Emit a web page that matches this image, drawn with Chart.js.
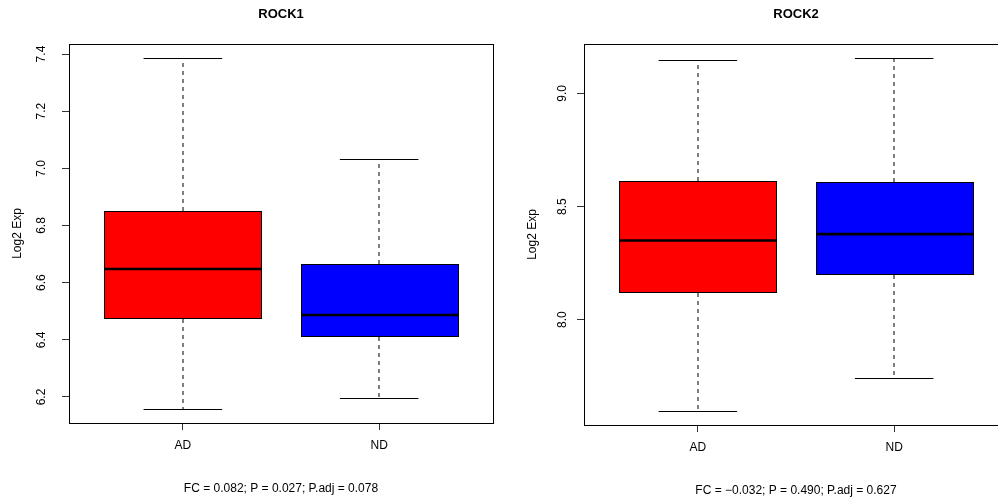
<!DOCTYPE html>
<html>
<head>
<meta charset="utf-8">
<script src="https://cdn.jsdelivr.net/npm/chart.js@4.4.1/dist/chart.umd.min.js"></script>
<style>
  html, body { margin: 0; padding: 0; background: #fff; overflow: hidden; width: 998px; height: 502px; }
  #wrap { position: relative; width: 998px; height: 502px; overflow: hidden; }
  .panel { position: absolute; top: 0; height: 502px; }
</style>
</head>
<body>
<div id="wrap">
  <div class="panel" style="left:0;width:499px"><canvas id="rock1" width="499" height="502"></canvas></div>
  <div class="panel" style="left:505px;width:520px"><canvas id="rock2" width="520" height="502"></canvas></div>
</div>
<script>
// Groups and fill colours
const categories = ['AD', 'ND'];
const boxColors = ['#FF0000', '#0000FF'];

// ROCK1 five-number summaries (log2 expression)
const rock1Min    = [6.158, 6.196];
const rock1Q1     = [6.476, 6.413];
const rock1Median = [6.648, 6.487];
const rock1Q3     = [6.851, 6.665];
const rock1Max    = [7.386, 7.033];
const rock1Ticks  = [6.2, 6.4, 6.6, 6.8, 7.0, 7.2, 7.4];
const rock1Note   = 'FC = 0.082; P = 0.027; P.adj = 0.078';

// ROCK2 five-number summaries (log2 expression)
const rock2Min    = [7.597, 7.743];
const rock2Q1     = [8.124, 8.204];
const rock2Median = [8.350, 8.378];
const rock2Q3     = [8.611, 8.607];
const rock2Max    = [9.146, 9.156];
const rock2Ticks  = [8.0, 8.5, 9.0];
const rock2Note   = 'FC = \u22120.032; P = 0.490; P.adj = 0.627';

Chart.defaults.font.family = '"Liberation Sans", Arial, Helvetica, sans-serif';
Chart.defaults.color = '#000';

const BOX_HALF = 0.4;   // half box width in group units
const CAP_HALF = 0.2;   // half staple width in group units

// Pixel-snapped box edges for group i
function boxEdges(x, y, stats, i) {
  const c = i + 1;
  return {
    l: Math.round(x.getPixelForValue(c - BOX_HALF)),
    r: Math.round(x.getPixelForValue(c + BOX_HALF)),
    t: Math.round(y.getPixelForValue(stats.q3[i])),
    b: Math.round(y.getPixelForValue(stats.q1[i]))
  };
}

// Box outlines, whiskers, staples, medians and the frame around the plot region
function boxPlotPlugin(stats) {
  return {
    id: 'boxPlotExtras',
    beforeDatasetsDraw(chart) {
      // snap the filled boxes to whole pixels so the outline sits on their edge
      const { scales: { x, y } } = chart;
      chart.getDatasetMeta(0).data.forEach((el, i) => {
        const e = boxEdges(x, y, stats, i);
        el.x = (e.l + e.r + 1) / 2;
        el.width = e.r - e.l + 1;
        el.y = e.t;
        el.base = e.b + 1;
      });
    },
    afterDatasetsDraw(chart) {
      const { ctx, chartArea: a, scales: { x, y } } = chart;
      ctx.save();
      ctx.strokeStyle = '#000';
      stats.min.forEach((_, i) => {
        const c = i + 1;
        const e = boxEdges(x, y, stats, i);
        const cx = Math.round(x.getPixelForValue(c));
        const yMin = Math.round(y.getPixelForValue(stats.min[i]));
        const yMax = Math.round(y.getPixelForValue(stats.max[i]));
        const yMed = y.getPixelForValue(stats.median[i]);

        // dashed whiskers
        ctx.lineWidth = 1;
        ctx.setLineDash([4, 4]);
        ctx.beginPath();
        ctx.moveTo(cx, e.t); ctx.lineTo(cx, yMax);
        ctx.moveTo(cx, e.b + 1); ctx.lineTo(cx, yMin);
        ctx.stroke();
        ctx.setLineDash([]);

        // staples
        const sl = x.getPixelForValue(c - CAP_HALF);
        const sr = x.getPixelForValue(c + CAP_HALF);
        ctx.beginPath();
        ctx.moveTo(sl, yMax + 0.5); ctx.lineTo(sr, yMax + 0.5);
        ctx.moveTo(sl, yMin + 0.5); ctx.lineTo(sr, yMin + 0.5);
        ctx.stroke();

        // box outline
        ctx.strokeRect(e.l + 0.5, e.t + 0.5, e.r - e.l, e.b - e.t);

        // median
        ctx.lineWidth = 2.6;
        ctx.beginPath();
        ctx.moveTo(e.l, yMed);
        ctx.lineTo(e.r + 1, yMed);
        ctx.stroke();
      });
      // plot frame
      ctx.lineWidth = 1;
      ctx.strokeRect(Math.round(a.left) + 0.5, Math.round(a.top) + 0.5,
                     Math.round(a.right - a.left), Math.round(a.bottom - a.top));
      ctx.restore();
    }
  };
}

function makeBoxChart(id, cfg) {
  const s = cfg.stats;
  const lo = Math.min(...s.min), hi = Math.max(...s.max);
  const yPad = 0.04 * (hi - lo);
  const n = categories.length;
  const xPad = 0.04 * n;

  return new Chart(document.getElementById(id), {
    type: 'bar',
    data: {
      datasets: [{
        data: categories.map((c, i) => ({ x: i + 1, y: [s.q1[i], s.q3[i]] })),
        backgroundColor: boxColors,
        borderWidth: 0,
        inflateAmount: 0,
        categoryPercentage: 2 * BOX_HALF,
        barPercentage: 1
      }]
    },
    options: {
      responsive: false,
      animation: false,
      devicePixelRatio: 1,
      layout: { padding: { left: 0, right: cfg.padRight, top: 0, bottom: 0 } },
      plugins: {
        legend: { display: false },
        tooltip: { enabled: false },
        title: {
          display: true, text: cfg.title, fullSize: false,
          font: { size: 13, weight: 'bold' }, color: '#000',
          padding: { top: 7, bottom: 21.4 }
        },
        subtitle: {
          display: true, text: cfg.note, position: 'bottom', fullSize: false,
          font: { size: 12 }, color: '#000',
          padding: { top: 0, bottom: cfg.noteBottom }
        }
      },
      scales: {
        x: {
          type: 'linear',
          min: 0.5 - xPad, max: n + 0.5 + xPad,
          offset: false,
          afterBuildTicks: sc => { sc.ticks = categories.map((c, i) => ({ value: i + 1 })); },
          afterFit: sc => { sc.height = cfg.xAxisHeight; },
          ticks: {
            autoSkip: false, maxRotation: 0, minRotation: 0,
            padding: 8, font: { size: 12 }, color: '#000',
            callback: v => categories[Math.round(v) - 1]
          },
          grid: { drawOnChartArea: false, drawTicks: true, tickLength: 7, color: '#333', offset: false },
          border: { display: false }
        },
        y: {
          type: 'linear',
          min: lo - yPad, max: hi + yPad,
          afterBuildTicks: sc => { sc.ticks = cfg.ticks.map(v => ({ value: v })); },
          afterFit: sc => { sc.width = cfg.yAxisWidth; },
          ticks: {
            minRotation: 90, maxRotation: 90, crossAlign: 'center',
            padding: cfg.yTickPad, font: { size: 12 }, color: '#000',
            callback: v => Number(v).toFixed(1)
          },
          grid: { drawOnChartArea: false, drawTicks: true, tickLength: 7, color: '#333' },
          border: { display: false },
          title: {
            display: true, text: 'Log2 Exp', font: { size: 12 }, color: '#000',
            padding: { top: cfg.yTitlePad, bottom: 0 }
          }
        }
      }
    },
    plugins: [boxPlotPlugin(s)]
  });
}

makeBoxChart('rock1', {
  title: 'ROCK1', note: rock1Note, ticks: rock1Ticks,
  stats: { min: rock1Min, q1: rock1Q1, median: rock1Median, q3: rock1Q3, max: rock1Max },
  padRight: 6, yAxisWidth: 69, xAxisHeight: 58.8, noteBottom: 5.8,
  yTickPad: 12, yTitlePad: 10.8
});

makeBoxChart('rock2', {
  title: 'ROCK2', note: rock2Note, ticks: rock2Ticks,
  stats: { min: rock2Min, q1: rock2Q1, median: rock2Median, q3: rock2Q3, max: rock2Max },
  padRight: 17, yAxisWidth: 79, xAxisHeight: 58.8, noteBottom: 3.8,
  yTickPad: 5.7, yTitlePad: 20.8
});
</script>
</body>
</html>
